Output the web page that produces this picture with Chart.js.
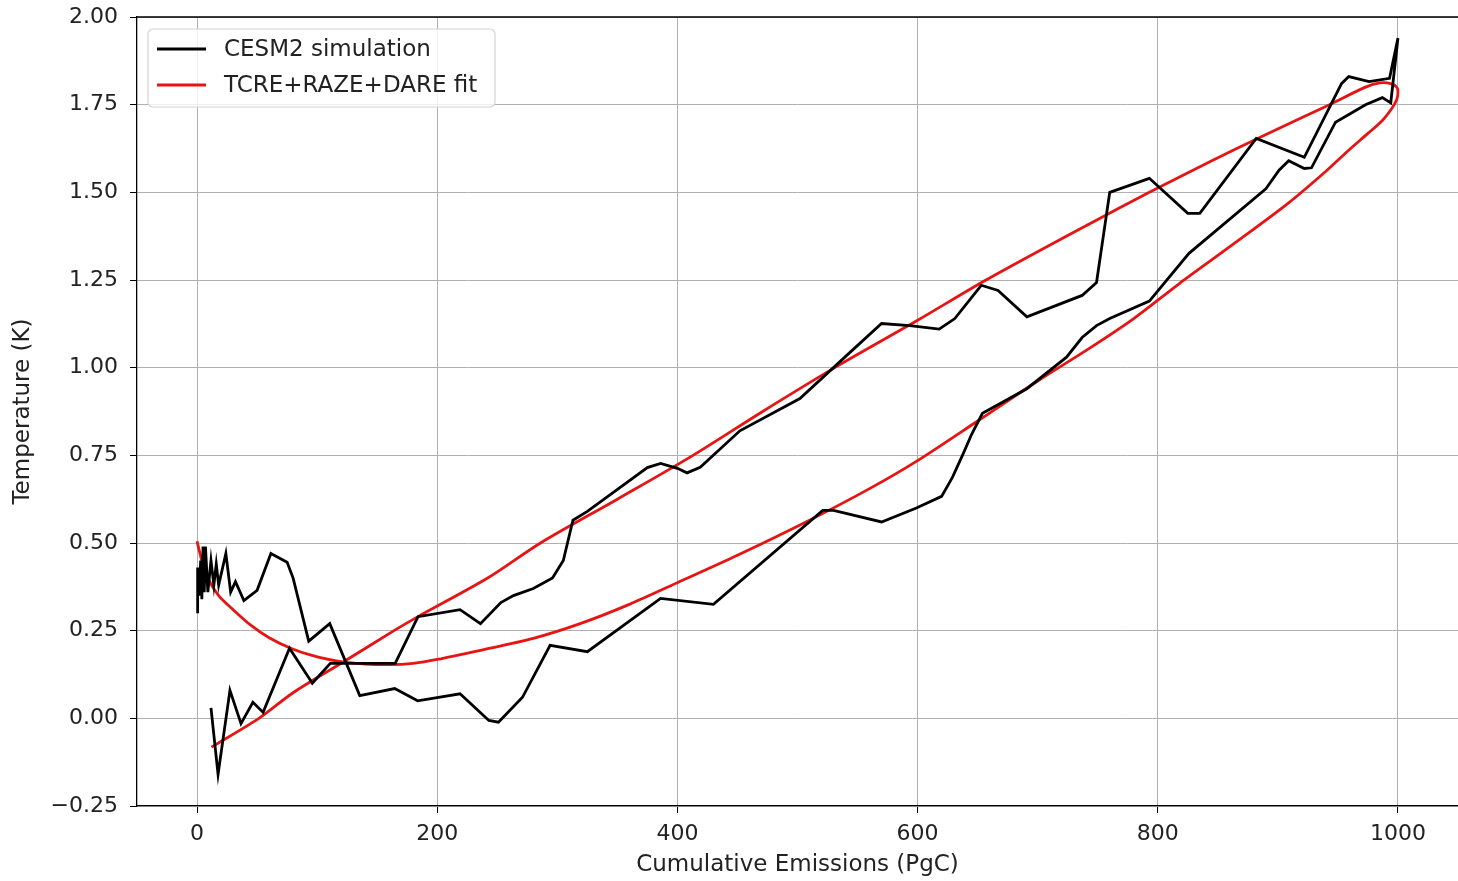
<!DOCTYPE html>
<html lang="en">
<head>
    <meta charset="UTF-8">
    <title>CESM2 simulation vs TCRE+RAZE+DARE fit</title>
    <style>
        html, body {
            margin: 0;
            padding: 0;
            background: #fff;
        }
        #wrap {
            width: 1458px;
            height: 881px;
        }
    </style>
    <script src="https://cdn.jsdelivr.net/npm/chart.js"></script>
</head>
<body>
    <div id="wrap"><canvas id="loopChart" width="1458" height="881"></canvas></div>
    <script>
        // CESM2 simulation: ramp-up (lower branch) then ramp-down (upper branch)
        const simX = [0.5, 0.5, 2, 3, 4, 5, 6, 7, 9, 11.6, 14, 16, 18, 24, 28, 32, 39, 50, 61.5, 75, 80, 93, 110.5,
            135.5, 164.6, 183.7, 219, 243, 251, 271, 294, 325, 386, 430, 521, 530, 570, 599, 620, 629, 638, 645, 654,
            691, 724, 737, 749, 760, 793, 826, 890, 901, 909, 922, 928, 948, 973, 987, 994, 1000,
            993, 976, 959, 953, 922, 882, 835, 825, 793, 760, 749, 737, 691, 667, 653, 631, 618, 593.5, 570, 541,
            502, 452, 419, 408, 400, 386, 375, 325, 313, 305, 296, 280, 263.5, 253, 236, 219, 184, 165, 111, 96,
            77, 55, 46.5, 36.6, 27.4, 17.5, 11.6];
        const simY = [0.30, 0.43, 0.35, 0.45, 0.34, 0.49, 0.36, 0.49, 0.36, 0.45, 0.38, 0.44, 0.38, 0.47, 0.36, 0.39, 0.336, 0.365, 0.47, 0.445, 0.40, 0.22, 0.27,
            0.065, 0.085, 0.05, 0.07, -0.006, -0.011, 0.06, 0.208, 0.19, 0.342, 0.325, 0.593, 0.593, 0.56, 0.60, 0.633, 0.687, 0.755, 0.81, 0.87,
            0.94, 1.03, 1.086, 1.12, 1.14, 1.19, 1.326, 1.51, 1.563, 1.59, 1.568, 1.57, 1.70, 1.75, 1.77, 1.755, 1.94,
            1.825, 1.816, 1.83, 1.81, 1.60, 1.654, 1.44, 1.44, 1.54, 1.50, 1.243, 1.206, 1.145, 1.22, 1.235, 1.14, 1.11, 1.12, 1.126, 1.035,
            0.912, 0.82, 0.716, 0.70, 0.713, 0.727, 0.715, 0.59, 0.565, 0.45, 0.40, 0.37, 0.35, 0.33, 0.27, 0.31, 0.29, 0.157, 0.157, 0.10,
            0.20, 0.017, 0.046, -0.015, 0.08, -0.16, 0.03];

        // TCRE+RAZE+DARE fit
        const fitX = [0, 4, 9, 18, 30, 45, 60, 78, 95, 117, 140, 160, 180, 200, 236, 280, 319, 360, 402, 450, 510,
            560, 600, 650, 700, 743, 780, 818, 860, 909, 940, 959, 975, 987, 995, 999, 1000,
            999, 994, 985, 973, 943, 884, 845, 793, 743, 657, 600, 531, 470, 413, 350, 286, 242, 184, 164, 120,
            80, 51.5, 12];
        const fitY = [0.505, 0.45, 0.40, 0.35, 0.31, 0.265, 0.23, 0.2, 0.18, 0.163, 0.155, 0.153, 0.157, 0.168, 0.194, 0.228, 0.27, 0.325, 0.39, 0.465, 0.565,
            0.655, 0.735, 0.848, 0.962, 1.055, 1.14, 1.24, 1.345, 1.47, 1.56, 1.62, 1.668, 1.705, 1.74, 1.765, 1.785,
            1.80, 1.81, 1.812, 1.80, 1.75, 1.655, 1.59, 1.50, 1.41, 1.25, 1.135, 1.00, 0.873, 0.75, 0.625, 0.50, 0.40, 0.29, 0.25, 0.157,
            0.073, 0.0, -0.082];

        const xTicks = [0, 200, 400, 600, 800, 1000];
        const yTicks = [-0.25, 0, 0.25, 0.5, 0.75, 1.0, 1.25, 1.5, 1.75, 2.0];

        const FONT = 'DejaVu Sans';
        const toPoints = (xs, ys) => xs.map((x, i) => ({ x: x, y: ys[i] }));

        // legend box inside the plot, matplotlib style
        const boxLegend = {
            id: 'boxLegend',
            afterDraw(chart) {
                const c = chart.ctx;
                const x0 = 148, y0 = 29, w = 347, h = 78;
                c.save();
                c.fillStyle = 'rgba(255,255,255,0.8)';
                c.strokeStyle = '#d4d4d4';
                c.lineWidth = 1.2;
                c.beginPath();
                c.roundRect(x0, y0, w, h, 5);
                c.fill();
                c.stroke();
                c.font = '23px "' + FONT + '"';
                c.textBaseline = 'middle';
                chart.data.datasets.forEach((ds, i) => {
                    const y = y0 + 20 + i * 36;
                    c.strokeStyle = ds.borderColor;
                    c.lineWidth = 2.8;
                    c.beginPath();
                    c.moveTo(157, y);
                    c.lineTo(206, y);
                    c.stroke();
                    c.fillStyle = '#222';
                    c.fillText(ds.label, 224, y + 1);
                });
                c.restore();
            }
        };

        // top spine
        const topSpine = {
            id: 'topSpine',
            afterDraw(chart) {
                const a = chart.chartArea;
                const c = chart.ctx;
                c.save();
                c.strokeStyle = '#000';
                c.lineWidth = 1.3;
                c.beginPath();
                c.moveTo(a.left, a.top);
                c.lineTo(a.right, a.top);
                c.stroke();
                c.restore();
            }
        };

        const ctx = document.getElementById('loopChart').getContext('2d');
        new Chart(ctx, {
            type: 'line',
            data: {
                datasets: [
                    {
                        label: 'CESM2 simulation',
                        data: toPoints(simX, simY),
                        borderColor: '#000',
                        borderWidth: 2.8,
                        pointRadius: 0,
                        tension: 0,
                        fill: false
                    },
                    {
                        label: 'TCRE+RAZE+DARE fit',
                        data: toPoints(fitX, fitY),
                        borderColor: '#e81414',
                        borderWidth: 2.8,
                        pointRadius: 0,
                        tension: 0.3,
                        fill: false
                    }
                ]
            },
            options: {
                responsive: false,
                animation: false,
                layout: { padding: { top: 17, right: 0, left: 0, bottom: 0 } },
                plugins: {
                    legend: { display: false },
                    tooltip: { enabled: false }
                },
                scales: {
                    x: {
                        type: 'linear',
                        min: -50,
                        max: 1050,
                        afterBuildTicks: (s) => { s.ticks = xTicks.map(v => ({ value: v })); },
                        afterFit: (s) => {
                            s.height = 75;
                            s.paddingLeft = 0;
                            s.paddingRight = 0;
                        },
                        grid: { color: '#b0b0b0', lineWidth: 1, tickColor: '#000', tickLength: 7 },
                        border: { color: '#000', width: 1.3 },
                        ticks: {
                            color: '#222',
                            padding: 8,
                            maxRotation: 0,
                            font: { family: FONT, size: 22 },
                            callback: (v) => String(v)
                        },
                        title: {
                            display: true,
                            text: 'Cumulative Emissions (PgC)',
                            color: '#222',
                            font: { family: FONT, size: 23 },
                            padding: { top: 0, bottom: 2 }
                        }
                    },
                    y: {
                        min: -0.25,
                        max: 2.0,
                        afterBuildTicks: (s) => { s.ticks = yTicks.map(v => ({ value: v })); },
                        afterFit: (s) => {
                            s.width = 137;
                            s.paddingTop = 0;
                            s.paddingBottom = 0;
                        },
                        grid: { color: '#b0b0b0', lineWidth: 1, tickColor: '#000', tickLength: 7 },
                        border: { color: '#000', width: 1.3 },
                        ticks: {
                            color: '#222',
                            padding: 12,
                            font: { family: FONT, size: 22 },
                            callback: (v) => (v < 0 ? '\u2212' + Math.abs(v).toFixed(2) : v.toFixed(2))
                        },
                        title: {
                            display: true,
                            text: 'Temperature (K)',
                            color: '#222',
                            font: { family: FONT, size: 23 },
                            padding: { top: 9, bottom: 0 }
                        }
                    }
                }
            },
            plugins: [boxLegend, topSpine]
        });
    </script>
</body>
</html>
